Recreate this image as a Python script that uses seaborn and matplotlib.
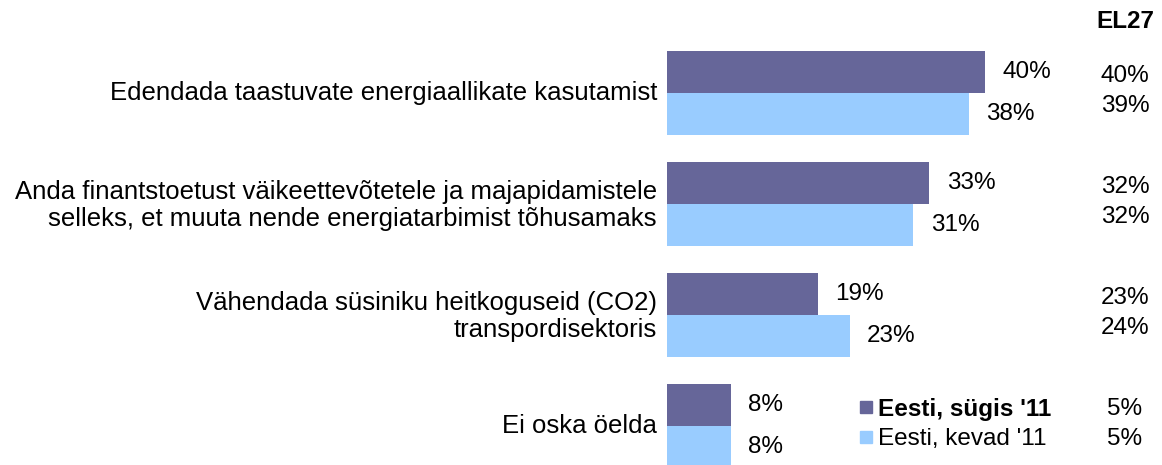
import matplotlib
matplotlib.use("Agg")
import matplotlib.pyplot as plt
import matplotlib.transforms as mtransforms
from matplotlib.lines import Line2D
import seaborn as sns
import pandas as pd

categories = [
    "Edendada taastuvate energiaallikate kasutamist",
    "Anda finantstoetust väikeettevõtetele ja majapidamistele\nselleks, et muuta nende energiatarbimist tõhusamaks",
    "Vähendada süsiniku heitkoguseid (CO2)\ntranspordisektoris",
    "Ei oska öelda",
]
series_names = ["Eesti, sügis '11", "Eesti, kevad '11"]
autumn_values = [40, 33, 19, 8]
spring_values = [38, 31, 23, 8]
el27_autumn = [40, 32, 23, 5]
el27_spring = [39, 32, 24, 5]
el27_title = "EL27"
colors = ["#666699", "#99CCFF"]

sns.set_theme(style="white")
plt.rcParams["font.family"] = ["Liberation Sans", "DejaVu Sans"]
plt.rcParams["text.color"] = "black"
FS = 17.5
FS_CAT = 18.5

df = pd.DataFrame({
    "category": categories * 2,
    "value": autumn_values + spring_values,
    "series": [series_names[0]] * 4 + [series_names[1]] * 4,
})

W, H = 1162, 465
fig = plt.figure(figsize=(W / 100, H / 100), dpi=100)
ax = fig.add_axes([667 / W, 0, (W - 667) / W, 1])

sns.barplot(data=df, y="category", x="value", hue="series", order=categories,
            hue_order=series_names, palette=colors, width=0.75, orient="h",
            ax=ax, legend=False, saturation=1, edgecolor="none", linewidth=0)

ax.set_xlim(0, (W - 667) / 7.95)
ax.set_ylim(3.351, -0.838)
for s in ax.spines.values():
    s.set_visible(False)
ax.set_xticks([])
ax.set_xlabel("")
ax.set_ylabel("")
ax.tick_params(axis="y", length=0, pad=7.2, labelsize=FS_CAT, labelcolor="black")
shift = mtransforms.ScaledTranslation(0, 3 / 100, fig.dpi_scale_trans)
for lab in ax.get_yticklabels():
    lab.set_transform(lab.get_transform() + shift)

for cont in ax.containers:
    ax.bar_label(cont, fmt="%d%%", padding=12.5, fontsize=FS, color="black")

# EL27 column
trans = mtransforms.blended_transform_factory(ax.transAxes, ax.transData)
xcol = (1125 - 667) / (W - 667)
for i, (a, b) in enumerate(zip(el27_autumn, el27_spring)):
    ax.annotate(f"{a}%", xy=(xcol, i), xycoords=trans, xytext=(0, 12.6),
                textcoords="offset points", ha="center", va="center",
                fontsize=FS, color="black", annotation_clip=False)
    ax.annotate(f"{b}%", xy=(xcol, i), xycoords=trans, xytext=(0, -9),
                textcoords="offset points", ha="center", va="center",
                fontsize=FS, color="black", annotation_clip=False)

fig.text(1125 / W, 1 - 22 / H, el27_title, ha="center", va="center",
         fontsize=FS, fontweight="bold", color="black")

handles = [Line2D([], [], marker="s", linestyle="", markersize=8.6,
                  markerfacecolor=c, markeredgecolor=c) for c in colors]
leg = fig.legend(handles, series_names, loc="center left",
                 bbox_to_anchor=(858.7 / W, 1 - 424 / H), frameon=False,
                 fontsize=FS, handlelength=0.6, handletextpad=0.19,
                 borderpad=0, borderaxespad=0, labelspacing=0.3,
                 labelcolor="black")
leg.get_texts()[0].set_fontweight("bold")

fig.savefig("out.png", dpi=100, facecolor="white")
